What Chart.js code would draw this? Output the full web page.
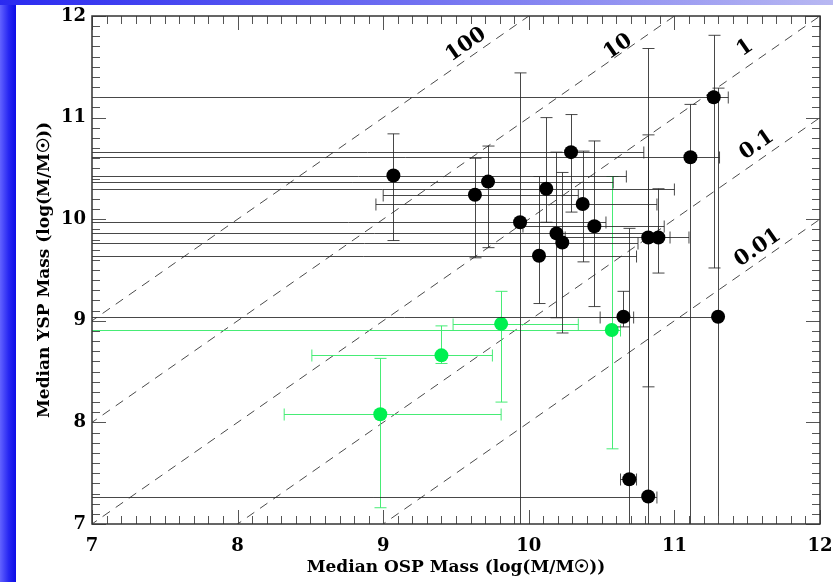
<!DOCTYPE html>
<html><head><meta charset="utf-8">
<script src="https://cdn.jsdelivr.net/npm/chart.js@4.4.1/dist/chart.umd.min.js"></script>
<style>
html,body{margin:0;padding:0;background:#fff;overflow:hidden}
#wrap{position:relative;width:833px;height:582px;background:#fff}
#left{position:absolute;left:0;top:0;width:16px;height:582px;background:linear-gradient(to right,#6262ff,#2626f2 55%,#0c0ce6)}
#top{position:absolute;left:0;top:0;width:833px;height:5px;background:linear-gradient(to right,#2a2af0,#b8b8f2)}
canvas{position:absolute;left:0;top:0}
</style></head><body>
<div id="wrap"><div id="left"></div><div id="top"></div><canvas id="c" width="833" height="582"></canvas></div>
<script>
// ---- data (log M/Msun) ----
const blackX   = [9.07, 9.63, 9.72, 9.94, 10.07, 10.12, 10.19, 10.23, 10.29, 10.37, 10.45, 10.65, 10.69, 10.82, 10.89, 10.82, 11.11, 11.27, 11.30];
const blackY   = [10.43, 10.24, 10.37, 9.97, 9.64, 10.30, 9.86, 9.77, 10.66, 10.15, 9.93, 9.04, 7.44, 9.82, 9.82, 7.27, 10.61, 11.20, 9.04];
const blackXLo = [6.0, 9.00, 6.0, 6.0, 6.0, 6.0, 6.0, 6.0, 6.0, 8.95, 9.96, 10.49, 10.63, 10.25, 10.84, 6.0, 6.0, 6.0, 6.0];
const blackXHi = [10.67, 10.34, 10.58, 10.53, 10.74, 11.00, 10.89, 10.75, 10.79, 10.88, 10.93, 10.72, 10.74, 11.10, 10.97, 10.88, 11.31, 11.37, 11.30];
const blackYLo = [9.79, 9.62, 9.72, 6.5, 9.17, 9.97, 9.03, 8.88, 10.07, 9.58, 9.14, 8.94, 6.5, 8.35, 9.47, 6.5, 6.5, 9.52, 6.5];
const blackYHi = [10.84, 10.60, 10.72, 11.44, 10.42, 11.00, 10.66, 10.46, 11.03, 10.67, 10.77, 9.29, 9.91, 10.83, 10.30, 11.68, 11.13, 11.81, 11.29];

const greenX   = [8.98, 9.40, 9.81, 10.57];
const greenY   = [8.08, 8.66, 8.97, 8.91];
const greenXLo = [8.32, 8.51, 9.48, 6.0];
const greenXHi = [9.81, 9.75, 10.34, 10.63];
const greenYLo = [7.16, 8.58, 8.20, 7.74];
const greenYHi = [8.63, 8.95, 9.29, 10.42];

// mass ratio (YSP/OSP) reference lines
const ratios      = [100, 10, 1, 0.1, 0.01];
const ratioLabels = ['100', '10', '1', '0.1', '0.01'];

const axisTicks = [7, 8, 9, 10, 11, 12];

function pts(xs, ys, xlo, xhi, ylo, yhi){
  return xs.map((v,i)=>({x:v, y:ys[i], xLo:xlo[i], xHi:xhi[i], yLo:ylo[i], yHi:yhi[i]}));
}

const FONT = "'DejaVu Serif', serif";
// label anchor (text centre) for each ratio line, in axis units
const labelAnchors = [[9.57, 11.715], [10.613, 11.695], [11.485, 11.685], [11.567, 10.73], [11.574, 9.717]];

const datasets = [
  {label:'black', type:'scatter', data:pts(blackX,blackY,blackXLo,blackXHi,blackYLo,blackYHi),
   backgroundColor:'#000', borderWidth:0, pointRadius:7, errColor:'rgba(40,40,40,0.85)'},
  {label:'green', type:'scatter', data:pts(greenX,greenY,greenXLo,greenXHi,greenYLo,greenYHi),
   backgroundColor:'#00f050', borderWidth:0, pointRadius:7, errColor:'rgba(60,235,110,0.95)'}
];
ratios.forEach((r,i)=>{
  const k = Math.log10(r);
  datasets.push({label:'ratio '+ratioLabels[i], type:'line',
    data:[{x:5,y:5+k},{x:14,y:14+k}], borderColor:'#4a4a4a', borderWidth:1,
    borderDash:[9,7], pointRadius:0, fill:false, tension:0});
});

const errorBars = {
  id:'errorBars',
  beforeDatasetDraw(chart, args){
    const ds = chart.data.datasets[args.index];
    if(!ds.errColor) return;
    const {ctx, chartArea:a, scales:{x, y}} = chart;
    ctx.save();
    ctx.beginPath(); ctx.rect(a.left, a.top, a.right-a.left, a.bottom-a.top); ctx.clip();
    ctx.strokeStyle = ds.errColor; ctx.lineWidth = 1;
    const c = 6;
    ds.data.forEach(p=>{
      const px = Math.round(x.getPixelForValue(p.x))+0.5, py = Math.round(y.getPixelForValue(p.y))+0.5;
      const xl = x.getPixelForValue(p.xLo), xh = x.getPixelForValue(p.xHi);
      const yl = y.getPixelForValue(p.yLo), yh = y.getPixelForValue(p.yHi);
      ctx.beginPath();
      ctx.moveTo(xl, py); ctx.lineTo(xh, py);
      ctx.moveTo(px, yl); ctx.lineTo(px, yh);
      if(p.xLo < p.x){ ctx.moveTo(xl, py-c); ctx.lineTo(xl, py+c); }
      if(p.xHi > p.x){ ctx.moveTo(xh, py-c); ctx.lineTo(xh, py+c); }
      if(p.yLo < p.y){ ctx.moveTo(px-c, yl); ctx.lineTo(px+c, yl); }
      if(p.yHi > p.y){ ctx.moveTo(px-c, yh); ctx.lineTo(px+c, yh); }
      ctx.stroke();
    });
    ctx.restore();
  }
};

const frameTicks = {
  id:'frameTicks',
  afterDatasetsDraw(chart){
    const {ctx, chartArea:a, scales:{x, y}} = chart;
    ctx.save();
    ctx.strokeStyle = '#555'; ctx.lineWidth = 1;
    ctx.beginPath();
    for(let i=70;i<=120;i++){
      const v = i/10, major = (i%10===0), L = major?14:8;
      const px = Math.round(x.getPixelForValue(v))+0.5;
      ctx.moveTo(px, a.bottom); ctx.lineTo(px, a.bottom-L);
      ctx.moveTo(px, a.top); ctx.lineTo(px, a.top+L);
      const py = Math.round(y.getPixelForValue(v))+0.5;
      ctx.moveTo(a.left, py); ctx.lineTo(a.left+L, py);
      ctx.moveTo(a.right, py); ctx.lineTo(a.right-L, py);
    }
    ctx.stroke();
    ctx.strokeStyle = '#333'; ctx.lineWidth = 1.5;
    ctx.strokeRect(a.left, a.top, a.right-a.left, a.bottom-a.top);
    // ratio labels
    ctx.fillStyle = '#000';
    ctx.font = "bold 21px " + FONT;
    ctx.textAlign = 'center'; ctx.textBaseline = 'middle';
    ratios.forEach((r,i)=>{
      const k = Math.log10(r);
      const [lx, ly] = labelAnchors[i];
      const ang = Math.atan2(y.getPixelForValue(k+9)-y.getPixelForValue(k+8), x.getPixelForValue(9)-x.getPixelForValue(8));
      ctx.save(); ctx.translate(x.getPixelForValue(lx), y.getPixelForValue(ly)); ctx.rotate(ang);
      ctx.fillText(ratioLabels[i], 0, 0);
      ctx.restore();
    });
    ctx.restore();
  }
};

new Chart(document.getElementById('c'), {
  data:{datasets},
  options:{
    responsive:false, animation:false,
    layout:{padding:{left:0, right:13, top:16, bottom:0}},
    plugins:{legend:{display:false}, tooltip:{enabled:false}},
    scales:{
      x:{type:'linear', min:7, max:12,
        afterBuildTicks(s){ s.ticks = axisTicks.map(v=>({value:v})); },
        afterFit(s){ s.height = 58; s.paddingRight = 0; s.paddingLeft = 0; },
        grid:{display:false, drawTicks:false}, border:{display:false},
        ticks:{color:'#000', padding:12, font:{family:FONT, size:18, weight:'bold'}},
        title:{display:true, text:'Median OSP Mass (log(M/M☉))', color:'#000',
          padding:{top:0,bottom:4}, font:{family:FONT, size:17, weight:'bold'}}
      },
      y:{type:'linear', min:7, max:12,
        afterBuildTicks(s){ s.ticks = axisTicks.map(v=>({value:v})); },
        afterFit(s){ s.width = 92; s.paddingTop = 0; s.paddingBottom = 0; },
        grid:{display:false, drawTicks:false}, border:{display:false},
        ticks:{color:'#000', padding:6, font:{family:FONT, size:18, weight:'bold'}},
        title:{display:true, text:'Median YSP Mass (log(M/M☉))', color:'#000',
          padding:{top:34,bottom:0}, font:{family:FONT, size:17, weight:'bold'}}
      }
    }
  },
  plugins:[errorBars, frameTicks]
});
</script>
</body></html>
